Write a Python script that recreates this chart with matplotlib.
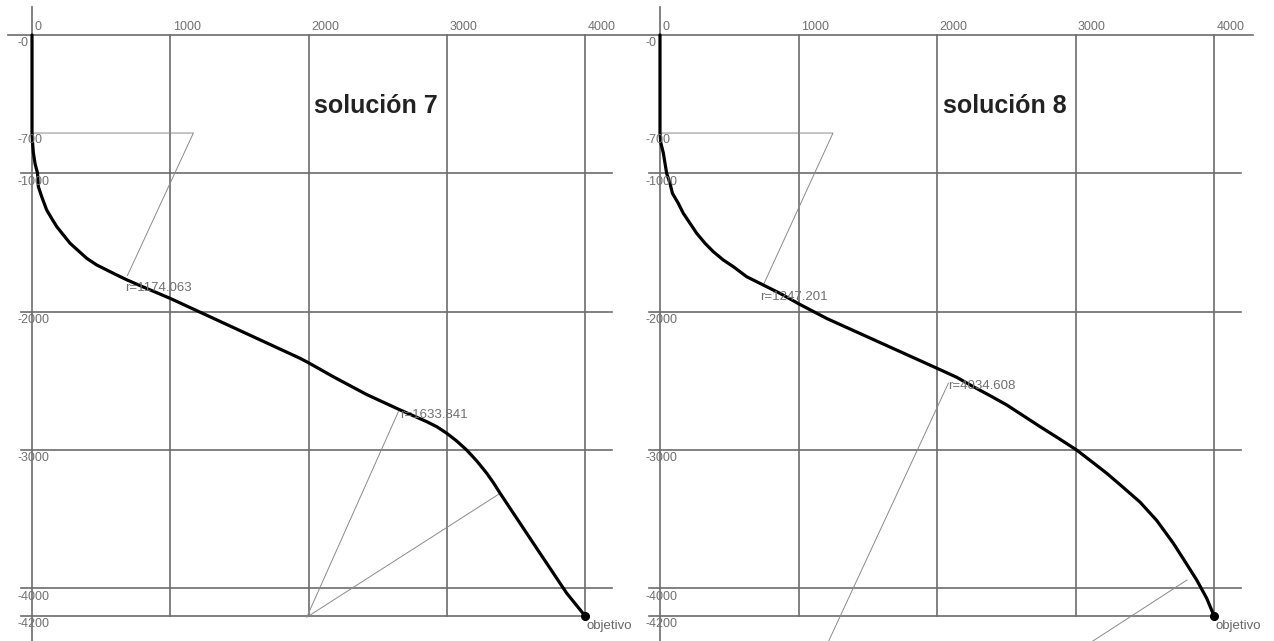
import matplotlib
matplotlib.use('Agg')
import matplotlib.pyplot as plt

plt.rcParams['font.family'] = ['Liberation Sans', 'DejaVu Sans']

# trayectorias (x = desplazamiento, y = profundidad)
sol7_x = [0, 0, 4, 10, 22, 40, 46, 70, 106, 142, 179, 227, 275, 335, 396, 468, 540, 612,
          685, 781, 998, 1939, 2000, 2179, 2421, 2662, 2855, 2927, 3000, 3072, 3144,
          3217, 3289, 3337, 3386, 3626, 3868, 4000]
sol7_y = [0, -709, -780, -853, -930, -1000, -1097, -1169, -1265, -1326, -1386, -1446,
          -1506, -1560, -1615, -1663, -1699, -1735, -1770, -1812, -1904, -2338, -2370,
          -2471, -2600, -2711, -2796, -2832, -2880, -2936, -3001, -3080, -3169, -3237,
          -3314, -3675, -4037, -4200]

sol8_x = [0, 0, 6, 24, 48, 72, 90, 132, 168, 217, 265, 325, 385, 457, 529, 626, 746,
          866, 1004, 1204, 2022, 2142, 2262, 2383, 2503, 2623, 2744, 2877, 3008, 3117,
          3225, 3345, 3466, 3586, 3706, 3791, 3875, 3947, 4000]
sol8_y = [0, -709, -780, -853, -1000, -1072, -1145, -1217, -1289, -1362, -1434, -1506,
          -1567, -1627, -1675, -1748, -1808, -1868, -1945, -2050, -2420, -2475, -2543,
          -2608, -2675, -2753, -2832, -2916, -3001, -3085, -3169, -3272, -3378, -3510,
          -3675, -3808, -3941, -4073, -4200]

# triangulos de los radios
tri7_a_x = [0, 1167, 690]
tri7_a_y = [-709, -709, -1740]
tri7_b_x = [2650, 1987, 3386]
tri7_b_y = [-2724, -4210, -3314]
tri8_a_x = [0, 1249, 746]
tri8_a_y = [-709, -709, -1808]
tri8_b_x = [2082, 397, 3805]
tri8_b_y = [-2518, -6153, -3941]

r7_labels = ['r=1174.063', 'r=1633.841']
r8_labels = ['r=1247.201', 'r=4034.608']

x_ticks = [0, 1000, 2000, 3000, 4000]
y_ticks = [0, -700, -1000, -2000, -3000, -4000, -4200]
y_ticklabels = ['-0', '-700', '-1000', '-2000', '-3000', '-4000', '-4200']
grid_y = [-1000, -2000, -3000, -4000]

target_x = 4000
target_y = -4200

GRID = '#6c6c6c'
THIN = '#8a8a8a'
TXT = '#707070'


def panel(ax, xlim, curve_x, curve_y, ta_x, ta_y, tb_x, tb_y, labels, lab_pos, title, top_end):
    ax.set_xlim(*xlim)
    ax.set_ylim(-4382, 253)
    ax.axis('off')
    # ejes y reticula
    ax.plot([0, 0], [200, -4382], color=GRID, lw=1.2)
    ax.plot([-174, top_end], [0, 0], color=GRID, lw=1.2)
    for gx in x_ticks[1:]:
        ax.plot([gx, gx], [0, -4200], color=GRID, lw=1.2)
    for gy in grid_y:
        ax.plot([-80, 4195], [gy, gy], color=GRID, lw=1.2)
    ax.plot([-80, 4000], [-4200, -4200], color=GRID, lw=1.2)
    # etiquetas
    for t in x_ticks:
        ax.text(t + 18, 12, str(t), fontsize=9, color=TXT, ha='left', va='bottom')
    for t, s in zip(y_ticks, y_ticklabels):
        ax.text(-108, t - 18, s, fontsize=9, color=TXT, ha='left', va='top')
    # triangulos
    ax.plot(ta_x, ta_y, color=THIN, lw=0.7)
    ax.plot(tb_x, tb_y, color=THIN, lw=0.7)
    # trayectoria
    ax.plot(curve_x, curve_y, color='black', lw=2.3, solid_capstyle='round',
            solid_joinstyle='round')
    ax.plot([target_x], [target_y], 'o', color='black', ms=5.5)
    ax.text(target_x + 10, target_y - 75, 'objetivo', fontsize=9.5, color='#666666',
            ha='left', va='center')
    for s, (lx, ly) in zip(labels, lab_pos):
        ax.text(lx, ly, s, fontsize=9.5, color=TXT, ha='left', va='center')
    ax.text(2490, -510, title, fontsize=18, fontweight='bold', color='#222222',
            ha='center', va='center')


fig = plt.figure(figsize=(12.74, 6.41), dpi=100)
ax1 = fig.add_axes([0, 0, 0.5, 1])
ax2 = fig.add_axes([0.5, 0, 0.5, 1])

panel(ax1, (-231.5, 4376), sol7_x, sol7_y, tri7_a_x, tri7_a_y, tri7_b_x, tri7_b_y,
      r7_labels, [(673, -1829), (2662, -2748)], 'solución 7', 4376)
panel(ax2, (-166, 4433), sol8_x, sol8_y, tri8_a_x, tri8_a_y, tri8_b_x, tri8_b_y,
      r8_labels, [(722, -1894), (2079, -2538)], 'solución 8', 4282)

fig.savefig('out.png', dpi=100, facecolor='white')
